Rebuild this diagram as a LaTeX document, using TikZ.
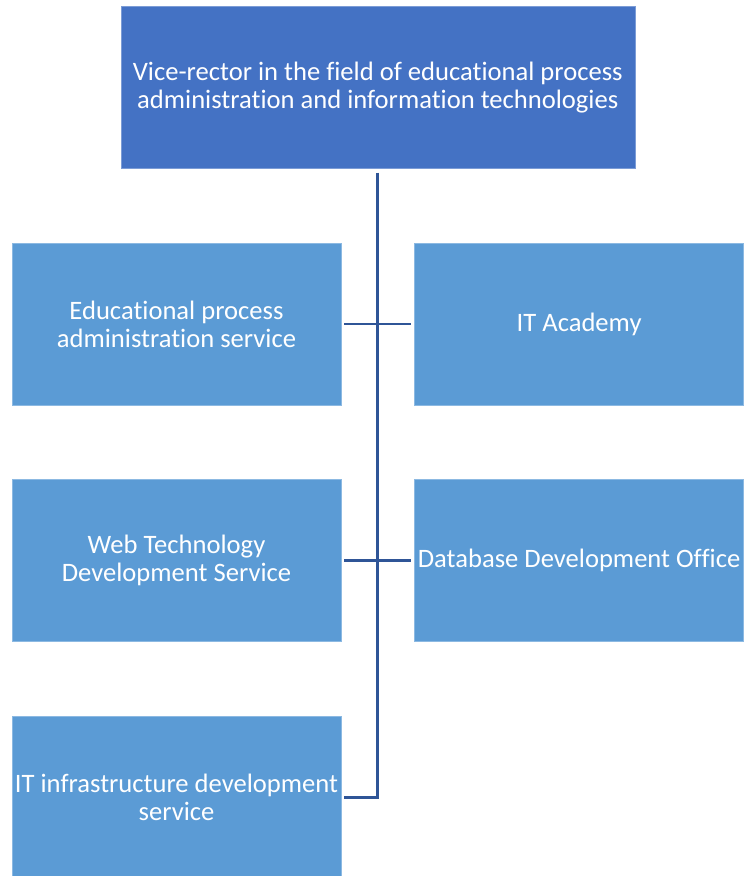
\documentclass[tikz,border=0pt]{standalone}
\usepackage{fontspec}
\setmainfont[Ligatures=NoCommon]{Carlito}
\usetikzlibrary{positioning,calc}
\definecolor{headcolor}{RGB}{68,114,196}
\definecolor{unitcolor}{RGB}{91,155,213}
\definecolor{linkcolor}{RGB}{47,85,151}

\begin{document}
\begin{tikzpicture}[
    node distance=74pt and 73pt,
    unit/.style={rectangle, fill=unitcolor, draw=unitcolor!70!white, line width=0.6pt, minimum height=162pt, minimum width=329pt, inner sep=0pt, align=center, text=white, font=\fontsize{26.6}{28}\selectfont},
    head/.style={unit, fill=headcolor, draw=headcolor!70!white, minimum width=514pt},
    link/.style={draw=linkcolor, line width=2.8pt}
]
\useasboundingbox (0pt,0pt) rectangle (746pt,-876pt);

% Units
\node[unit] (edu) at (176.5pt,-324pt) {Educational process\\administration service};
\node[unit, right=of edu] (itacad) {IT Academy};
\node[unit, below=of edu] (webtech) {Web Technology\\Development Service};
\node[unit, right=of webtech] (dbdev) {Database Development Office};
\node[unit, below=of webtech] (infra) {IT infrastructure development\\service};

% Vice-rector
\node[head, anchor=south] (vice) at ($(edu.north east)!0.5!(itacad.north west)+(0,74pt)$) {Vice-rector in the field of educational process\\administration and information technologies};

% Links
\coordinate (elbow) at (vice.south |- infra.east);
\draw[link, shorten <=4pt] (vice.south) -- (elbow) -- ([xshift=3pt]infra.east);
\draw[link, shorten <=3pt, shorten >=3pt] (edu.east) -- (itacad.west);
\draw[link, shorten <=3pt, shorten >=3pt] (webtech.east) -- (dbdev.west);

\end{tikzpicture}
\end{document}
